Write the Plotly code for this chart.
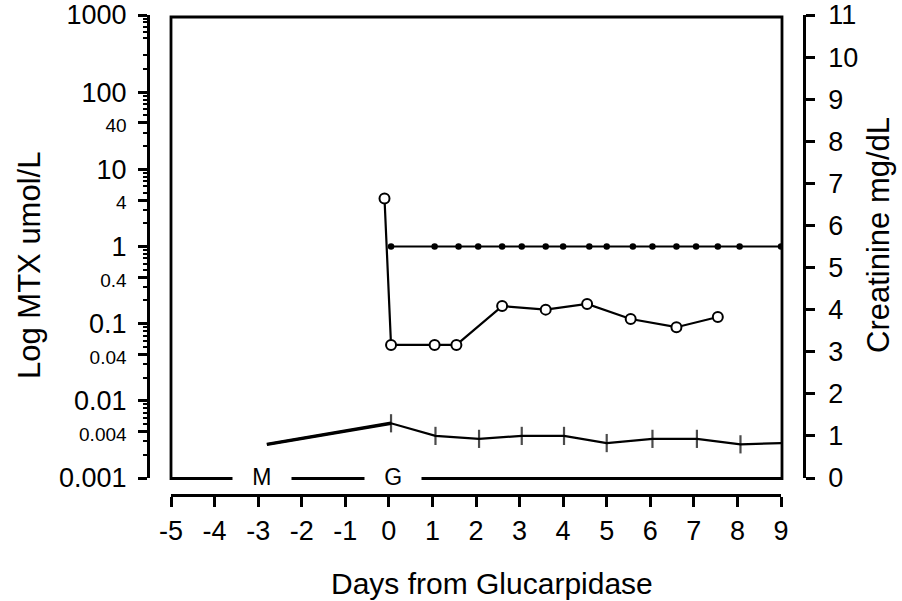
import plotly.graph_objects as go

# ---------------- data ----------------
# MTX concentration (umol/L, log axis) - open circles
mtx_days = [-0.1, 0.05, 1.05, 1.55, 2.6, 3.6, 4.55, 5.55, 6.6, 7.55]
mtx_vals = [4.2, 0.053, 0.053, 0.053, 0.169, 0.152, 0.18, 0.115, 0.09, 0.122]

# Reference line at 1 umol/L - small filled dots
ref_days = [0.05, 1.05, 1.6, 2.05, 2.6, 3.05, 3.6, 4.0, 4.6, 5.0, 5.6, 6.05, 6.6, 7.05, 7.55, 8.05, 9.0]
ref_vals = [1] * len(ref_days)

# Creatinine (mg/dL, right axis) - vertical tick markers
cre_days = [-2.8, 0.05, 1.07, 2.07, 3.05, 4.02, 5.0, 6.05, 7.07, 8.07, 9.0]
cre_vals = [0.8, 1.3, 1.0, 0.93, 1.0, 1.0, 0.83, 0.93, 0.93, 0.8, 0.83]

# event labels along bottom of panel
event_labels = ["M", "G"]
event_days = [-2.92, 0.1]

# tick labels
x_ticks = list(range(-5, 10))
x_ticktext = [str(v) for v in x_ticks]
mtx_ticks = [0.001, 0.004, 0.01, 0.04, 0.1, 0.4, 1, 4, 10, 40, 100, 1000]
mtx_ticktext = ["0.001", "0.004", "0.01", "0.04", "0.1", "0.4", "1", "4", "10", "40", "100", "1000"]
mtx_small = {0.004, 0.04, 0.4, 4, 40}
mtx_minor_mult = [2, 3, 5, 6, 7, 8, 9]
mtx_decades = [0.001, 0.01, 0.1, 1, 10, 100]
cre_ticks = list(range(0, 12))

# ---------------- geometry ----------------
W, H = 902, 601
FONT = "Liberation Sans, Arial, sans-serif"
px = lambda x: x / W
py = lambda y: (H - y) / H

xdom = [px(171), px(781)]
ydom = [py(478), py(15)]

mtx_text = [
    (f'<span style="font-size:19px">{t}</span>' if v in mtx_small else t)
    for v, t in zip(mtx_ticks, mtx_ticktext)
]
minor_vals = [d * m for d in mtx_decades for m in mtx_minor_mult]

fig = go.Figure()

fig.add_trace(go.Scatter(
    x=ref_days, y=ref_vals, mode="lines+markers", xaxis="x", yaxis="y",
    line=dict(color="black", width=2.2),
    marker=dict(symbol="circle", size=6.5, color="black"),
    showlegend=False))

fig.add_trace(go.Scatter(
    x=mtx_days, y=mtx_vals, mode="lines+markers", xaxis="x", yaxis="y",
    line=dict(color="black", width=2.2),
    marker=dict(symbol="circle", size=10, color="white", line=dict(color="black", width=2)),
    showlegend=False))

fig.add_trace(go.Scatter(
    x=cre_days[:2], y=cre_vals[:2], mode="lines", xaxis="x", yaxis="y2",
    line=dict(color="black", width=3.4), showlegend=False))

cre_sizes = [0] + [13] * (len(cre_days) - 2) + [0]
fig.add_trace(go.Scatter(
    x=cre_days, y=cre_vals, mode="lines+markers", xaxis="x", yaxis="y2",
    line=dict(color="black", width=2.2),
    marker=dict(symbol="line-ns", size=cre_sizes, line=dict(color="black", width=2.2)),
    showlegend=False))

# frame of the plotting panel (bottom edge gaps made by label backgrounds)
fig.add_shape(type="rect", xref="paper", yref="paper",
              x0=px(171), x1=px(782), y0=py(478.5), y1=py(17),
              line=dict(color="black", width=2.8), layer="above")

annotations = []
for lab, d in zip(event_labels, event_days):
    annotations.append(dict(
        x=d, y=py(477), xref="x", yref="paper", text="\u00a0\u00a0\u00a0" + lab + "\u00a0\u00a0\u00a0",
        showarrow=False, font=dict(family=FONT, size=23, color="black"),
        bgcolor="white", borderpad=0, xanchor="center", yanchor="middle"))

annotations.append(dict(x=px(492), y=py(583), xref="paper", yref="paper",
                        text="Days from Glucarpidase", showarrow=False,
                        font=dict(family=FONT, size=30, color="black"),
                        xanchor="center", yanchor="middle"))
annotations.append(dict(x=px(29), y=py(266), xref="paper", yref="paper",
                        text="Log MTX umol/L", showarrow=False, textangle=-90,
                        font=dict(family=FONT, size=31, color="black"),
                        xanchor="center", yanchor="middle"))
annotations.append(dict(x=px(878), y=py(235), xref="paper", yref="paper",
                        text="Creatinine mg/dL", showarrow=False, textangle=-90,
                        font=dict(family=FONT, size=31, color="black"),
                        xanchor="center", yanchor="middle"))

fig.update_layout(
    width=W, height=H,
    margin=dict(l=0, r=0, t=0, b=0, autoexpand=False),
    paper_bgcolor="white", plot_bgcolor="white",
    font=dict(family=FONT, color="black"),
    annotations=annotations,
    xaxis=dict(
        domain=xdom, range=[-5, 9], anchor="free", position=py(495),
        tickvals=x_ticks, ticktext=x_ticktext, automargin=False,
        ticks="outside", ticklen=10, tickwidth=2.5, tickcolor="black",
        ticklabelstandoff=1,
        showline=True, linewidth=2.8, linecolor="black",
        showgrid=False, zeroline=False,
        tickfont=dict(family=FONT, size=27, color="black"),
    ),
    yaxis=dict(
        domain=ydom, type="log", range=[-3, 3], anchor="free", position=px(148),
        side="left", automargin=False,
        tickvals=mtx_ticks, ticktext=mtx_text,
        ticks="outside", ticklen=9, tickwidth=2.5, tickcolor="black",
        ticklabelstandoff=6,
        showline=True, linewidth=3, linecolor="black",
        showgrid=False, zeroline=False,
        tickfont=dict(family=FONT, size=27, color="black"),
    ),
    yaxis3=dict(
        overlaying="y", type="log", range=[-3, 3], anchor="free", position=px(148),
        side="left", automargin=False,
        tickvals=minor_vals, showticklabels=False,
        ticks="outside", ticklen=5, tickwidth=1.5, tickcolor="black",
        showline=False, showgrid=False, zeroline=False,
    ),
    yaxis2=dict(
        overlaying="y", range=[0, 11], anchor="free", position=px(804),
        side="right", automargin=False,
        tickvals=cre_ticks,
        ticks="outside", ticklen=9, tickwidth=2.5, tickcolor="black",
        ticklabelstandoff=8,
        showline=True, linewidth=2.8, linecolor="black",
        showgrid=False, zeroline=False,
        tickfont=dict(family=FONT, size=27, color="black"),
    ),
)

# invisible trace to activate the minor-tick axis
fig.add_trace(go.Scatter(x=[None], y=[None], xaxis="x", yaxis="y3",
                         showlegend=False, hoverinfo="skip"))

fig.write_html("out.html",
               config={"displayModeBar": False},
               post_script="document.body.style.margin='0px';document.body.style.overflow='hidden';")
